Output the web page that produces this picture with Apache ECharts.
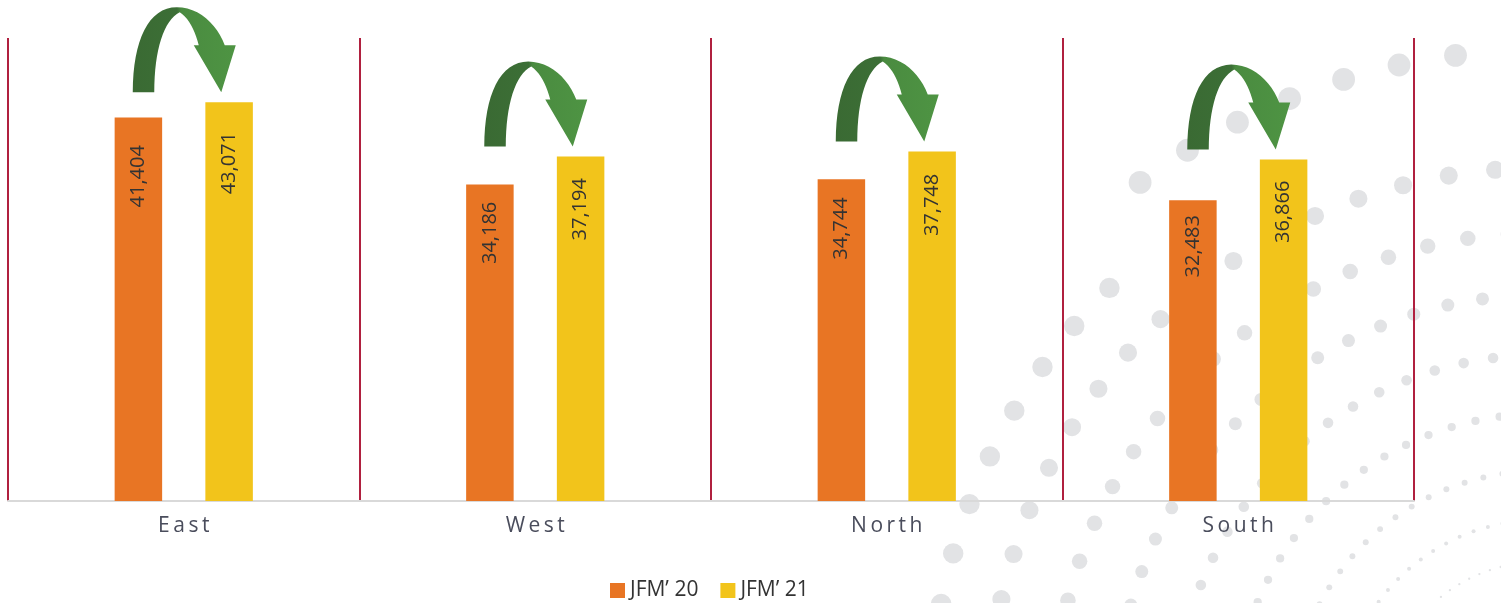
<!DOCTYPE html>
<html>
<head>
<meta charset="utf-8">
<script src="https://cdn.jsdelivr.net/npm/echarts@6/dist/echarts.min.js"></script>
<style>
html,body{margin:0;padding:0;background:#fff;}
#chart{width:1501px;height:603px;}
</style>
</head>
<body>
<div id="chart"></div>
<script>
// ---- data ----
const categories = ['East', 'West', 'North', 'South'];
const seriesNames = ['JFM\u2019 20', 'JFM\u2019 21'];
const jfm20 = [41404, 34186, 34744, 32483];
const jfm21 = [43071, 37194, 37748, 36866];
const yMax = 50000;

// ---- decorative background dots (ornament, not data) ----
function makeDots() {
  const els = [];
  const cx = 1540, cy = 720;
  const rings = [158, 200, 249, 306, 365, 425, 487, 552, 610, 670];
  rings.forEach((R, i) => {
    const s = 0.09 * R - 3;
    const dth = s / R;
    const rad = Math.max(1, (R - 100) * 0.02);
    const phase = ((i * 0.618) % 1) * dth;
    for (let th = Math.PI * 0.9 + phase; th < Math.PI * 1.7; th += dth) {
      const deg = th * 180 / Math.PI;
      if (R === 610 && deg > 229) continue;
      if (R === 670 && deg < 231) continue;
      const x = cx + R * Math.cos(th), y = cy + R * Math.sin(th);
      if (x > -20 && x < 1525 && y > -20 && y < 625) {
        els.push({ type: 'circle', z: -10, silent: true,
          shape: { cx: x, cy: y, r: rad }, style: { fill: '#e2e3e5' } });
      }
    }
  });
  return els;
}

function cubic(p0, p1, p2, p3, steps, out) {
  for (let k = 1; k <= steps; k++) {
    const t = k / steps, u = 1 - t;
    out.push([
      u*u*u*p0[0] + 3*u*u*t*p1[0] + 3*u*t*t*p2[0] + t*t*t*p3[0],
      u*u*u*p0[1] + 3*u*u*t*p1[1] + 3*u*t*t*p2[1] + t*t*t*p3[1]
    ]);
  }
}

const arrowFill = new echarts.graphic.LinearGradient(0, 0, 1, 0, [
  { offset: 0, color: '#3a6a33' },
  { offset: 0.43, color: '#3c6f36' },
  { offset: 0.47, color: '#4a8b40' },
  { offset: 1, color: '#4e9443' }
]);

const chart = echarts.init(document.getElementById('chart'));
chart.setOption({
  backgroundColor: '#ffffff',
  animation: false,
  graphic: { elements: makeDots() },
  grid: { left: 8, right: 87, top: 38, bottom: 102, containLabel: false },
  legend: {
    data: seriesNames,
    left: 610, top: 580,
    itemWidth: 15, itemHeight: 15, itemGap: 22,
    icon: 'rect', padding: 0,
    textStyle: { fontFamily: 'Open Sans', fontSize: 21, color: '#333333' }
  },
  xAxis: {
    type: 'category',
    data: categories,
    axisLine: { lineStyle: { color: '#d9d9d9', width: 2 } },
    axisTick: { show: false },
    splitLine: { show: true, lineStyle: { color: '#b0203f', width: 2 } },
    axisLabel: {
      margin: 15,
      fontFamily: 'Open Sans', fontSize: 21, color: '#4a4d5c',
      formatter: v => v.split('').join('\u2009')
    }
  },
  yAxis: { type: 'value', min: 0, max: yMax, show: false },
  series: [
    {
      name: seriesNames[0], type: 'bar', data: jfm20,
      barWidth: 47.5, barGap: '91%',
      itemStyle: { color: '#e87524' },
      label: {
        show: true, position: ['50%', '15.3%'], rotate: 90,
        align: 'center', verticalAlign: 'middle',
        fontFamily: 'Open Sans', fontSize: 20, color: '#333333',
        formatter: p => p.value.toLocaleString('en-US')
      }
    },
    {
      name: seriesNames[1], type: 'bar', data: jfm21,
      barWidth: 47.5, barGap: '91%',
      itemStyle: { color: '#f2c41b' },
      label: {
        show: true, position: ['50%', '15.3%'], rotate: 90,
        align: 'center', verticalAlign: 'middle',
        fontFamily: 'Open Sans', fontSize: 20, color: '#333333',
        formatter: p => p.value.toLocaleString('en-US')
      }
    },
    {
      name: 'arrows', type: 'custom', silent: true, z: 5,
      data: categories.map((c, i) => [i, jfm20[i], jfm21[i]]),
      renderItem: function (params, api) {
        const i = api.value(0);
        const top21 = api.coord([i, api.value(2)]);
        const foot = top21[1] - 10;
        const ox = top21[0] - 51;
        const P = (dx, dy) => [ox + dx, foot + dy];
        const pts = [P(0, 0)];
        cubic(P(0, 0), P(0, -52), P(16, -85), P(44, -85), 16, pts);
        cubic(P(44, -85), P(66, -85), P(84, -68), P(92, -47), 12, pts);
        pts.push(P(103, -47), P(88.5, 0), P(61, -47), P(66, -47));
        cubic(P(66, -47), P(62, -62), P(56, -74), P(47, -80), 10, pts);
        cubic(P(47, -80), P(31, -72), P(21.5, -42), P(21.5, 0), 16, pts);
        return { type: 'polygon', shape: { points: pts }, style: { fill: arrowFill } };
      }
    }
  ]
});
</script>
</body>
</html>
